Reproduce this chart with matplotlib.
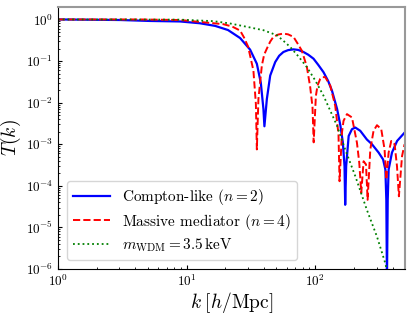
import numpy as np
import matplotlib
matplotlib.use("Agg")
import matplotlib.pyplot as plt

# -----------------------------
# values
# -----------------------------
k_compton = [1.0, 3.04, 5.2, 8.9, 12.7, 16.7, 21.0, 26.1, 31.2, 35.2, 37.8, 39.6, 40.3,
             42.1, 44.7, 48.9, 52.5, 56.6, 61.6, 67.8, 73.8, 81.1, 88.3, 97.0, 105.5,
             116, 126, 135, 148, 157, 164, 169, 171, 174, 182, 193, 205, 224, 252,
             276, 311, 337, 351, 357, 361, 366, 372, 395, 433, 495]
T_compton = [1.0, 0.97, 0.92, 0.895, 0.81, 0.70, 0.557, 0.357, 0.188, 0.086, 0.0298,
             0.0070, 0.0027, 0.0122, 0.0448, 0.0946, 0.134, 0.165, 0.183, 0.191, 0.185,
             0.165, 0.142, 0.114, 0.0813, 0.054, 0.0333, 0.0194, 0.0070, 0.0028, 0.0011,
             2.97e-4, 3.5e-5, 2.97e-4, 0.00158, 0.0023, 0.00252, 0.0021, 0.0013, 0.001,
             6.3e-4, 4.3e-4, 2.47e-4, 4.6e-5, 5e-7, 4.6e-5, 2.47e-4, 6.3e-4, 0.0012,
             0.0019]

k_mediator = [1.0, 4.35, 8.9, 19.3, 22.6, 26.1, 28.0, 30.1, 33.1, 34.6, 35.2, 36.2,
              38.5, 40.1, 42.1, 44.7, 47.3, 51.5, 56.6, 61.6, 67.8, 73.1, 78.8, 86.1,
              91.4, 95.3, 97.3, 101.2, 104.2, 109.4, 113.3, 119.6, 130.9, 143.1, 151.7,
              154.6, 161.4, 166.0, 176.6, 193.1, 211, 220, 228, 237.7, 248.2, 255.4,
              268, 284, 302, 326, 346, 357, 372, 390, 414, 432, 447, 473, 495]
T_mediator = [1.0, 1.0, 0.97, 0.77, 0.677, 0.54, 0.367, 0.222, 0.0592, 0.00925, 7.5e-4,
              0.0122, 0.078, 0.142, 0.199, 0.293, 0.381, 0.433, 0.458, 0.438, 0.381,
              0.262, 0.177, 0.0728, 0.0239, 0.0078, 0.00111, 0.0144, 0.0257, 0.0373,
              0.041, 0.041, 0.0257, 0.0084, 0.00174, 1.29e-4, 0.00191, 0.00365, 0.0053,
              0.0044, 0.00109, 3.58e-4, 6.8e-5, 3.9e-4, 3.26e-4, 4.6e-5, 7.5e-4, 0.0021,
              0.00287, 0.0023, 7.5e-4, 1.41e-4, 6.3e-4, 0.0012, 0.001, 2.97e-4, 5.6e-5,
              5.2e-4, 0.001]

k_wdm = [1.0, 8.9, 16.2, 21.8, 29.4, 39.6, 50.4, 56.4, 63.9, 73.8, 86.1, 100, 116,
         148, 171, 205, 252, 302, 351, 363]
T_wdm = [1.0, 0.99, 0.91, 0.80, 0.666, 0.551, 0.417, 0.31, 0.218, 0.131, 0.0717,
         0.0343, 0.0147, 0.00276, 7.5e-4, 1.7e-4, 2.65e-5, 6.0e-6, 1.36e-6, 8.3e-7]

labels = [r"Compton-like $(n=2)$", r"Massive mediator $(n=4)$",
          r"$m_{\rm WDM}=3.5\,{\rm keV}$"]

# -----------------------------
# style
# -----------------------------
plt.rcParams["font.family"] = "serif"
plt.rcParams["font.serif"] = ["cmr10"]
plt.rcParams["mathtext.fontset"] = "cm"
plt.rcParams["axes.formatter.use_mathtext"] = True
plt.rcParams["axes.unicode_minus"] = False

fig = plt.figure(figsize=(4.13, 3.15), dpi=100)
ax = fig.add_axes([0.140, 0.146, 0.841, 0.832])

ax.plot(k_compton, T_compton, color="blue", lw=1.6, ls="-", label=labels[0])
ax.plot(k_mediator, T_mediator, color="red", lw=1.4, ls="--", label=labels[1])
ax.plot(k_wdm, T_wdm, color="green", lw=1.3, ls=":", label=labels[2])

ax.set_xscale("log")
ax.set_yscale("log")
ax.set_xlim(1, 500)
ax.set_ylim(1e-6, 2)

ax.set_xlabel(r"$k\;[h/{\rm Mpc}]$", fontsize=14)
ax.set_ylabel(r"$T(k)$", fontsize=14)
ax.xaxis.set_label_coords(0.5, -0.08)
ax.yaxis.set_label_coords(-0.10, 0.5)
ax.tick_params(which="both", direction="in", labelsize=9.5)
ax.tick_params(which="major", length=3)
ax.tick_params(which="minor", length=1.5)

for side in ["top", "right"]:
    ax.spines[side].set_color("0.6")
    ax.spines[side].set_linewidth(1.5)

ax.legend(loc="lower left", fontsize=11, handlelength=2.4, framealpha=0.8,
          labelspacing=0.3, borderaxespad=0.6)

fig.savefig("out.png", dpi=100)
